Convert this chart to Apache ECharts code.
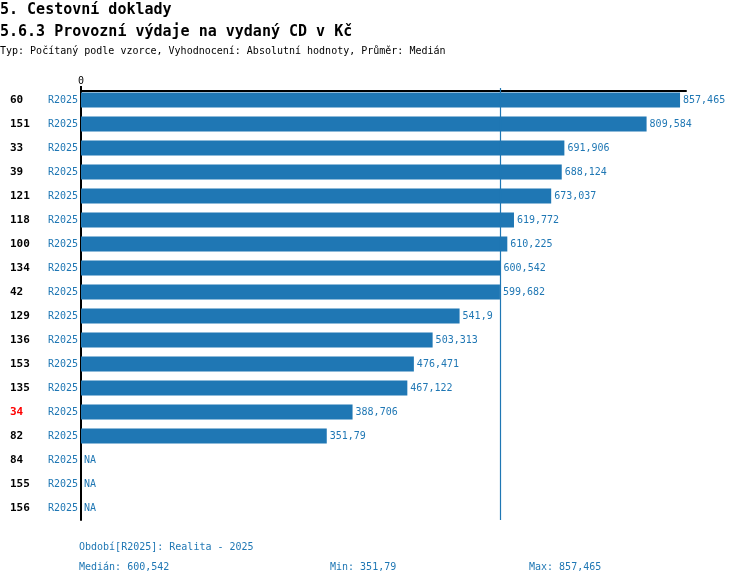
<!DOCTYPE html>
<html>
<head>
<meta charset="utf-8">
<script src="https://cdn.jsdelivr.net/npm/echarts@6/dist/echarts.min.js"></script>
<style>html,body{margin:0;padding:0;background:#fff}#c{width:750px;height:584px}</style>
</head>
<body>
<div id="c"></div>
<script>
const categories = ['60','151','33','39','121','118','100','134','42','129','136','153','135','34','82','84','155','156'];
const periods = ['R2025','R2025','R2025','R2025','R2025','R2025','R2025','R2025','R2025','R2025','R2025','R2025','R2025','R2025','R2025','R2025','R2025','R2025'];
const values = [857.465,809.584,691.906,688.124,673.037,619.772,610.225,600.542,599.682,541.9,503.313,476.471,467.122,388.706,351.79,null,null,null];
const highlighted = ['34'];
const medianValue = 600.542;
const minValue = 351.79;
const maxValue = 857.465;
const axisMax = 866;
const titleLines = ['5. Cestovní doklady','5.6.3 Provozní výdaje na vydaný CD v Kč','Typ: Počítaný podle vzorce, Vyhodnocení: Absolutní hodnoty, Průměr: Medián'];
const periodNote = 'Období[R2025]: Realita - 2025';

const FONT = 'DejaVu Sans Mono';
const BLUE = '#1f77b4';
const fmt = v => String(v).replace('.', ',');

const chart = echarts.init(document.getElementById('c'), null, {renderer:'canvas'});
chart.setOption({
  animation:false,
  backgroundColor:'#fff',
  title:[
    {text:titleLines[0], left:0, top:3, padding:0, textStyle:{fontFamily:FONT, fontSize:15, fontWeight:'bold', color:'#000'}},
    {text:titleLines[1], left:0, top:25, padding:0, textStyle:{fontFamily:FONT, fontSize:15, fontWeight:'bold', color:'#000'}},
    {text:titleLines[2], left:0, top:46, padding:0, textStyle:{fontFamily:FONT, fontSize:10, fontWeight:'normal', color:'#000'}}
  ],
  grid:{left:81, right:64, top:88, bottom:64, containLabel:false},
  xAxis:{
    type:'value', position:'top', min:0, max:axisMax, offset:-3,
    axisLine:{show:true, lineStyle:{color:'#000', width:2}},
    axisTick:{show:true, customValues:[0], length:5, lineStyle:{color:'#000', width:2}},
    axisLabel:{customValues:[0], fontFamily:FONT, fontSize:10, color:'#000', margin:5},
    splitLine:{show:false}
  },
  yAxis:{
    type:'category', data:categories, inverse:true,
    axisLine:{show:true, lineStyle:{color:'#000', width:2}},
    axisTick:{show:false},
    axisLabel:{
      margin:3,
      formatter:(v,i)=> (highlighted.includes(v) ? '{r|'+v+'}' : '{a|'+v+'}') + '{b|'+periods[i]+'}',
      rich:{
        a:{fontFamily:FONT, fontSize:11, fontWeight:'bold', color:'#000', width:38, align:'left'},
        r:{fontFamily:FONT, fontSize:11, fontWeight:'bold', color:'#ff0000', width:38, align:'left'},
        b:{fontFamily:FONT, fontSize:10, color:BLUE}
      }
    }
  },
  series:[{
    type:'bar',
    barWidth:15,
    data:values.map(v => v===null ? {value:0, na:true} : v),
    itemStyle:{color:BLUE},
    label:{
      show:true, position:'right', distance:3,
      fontFamily:FONT, fontSize:10, color:BLUE,
      formatter:p => (p.data && p.data.na) ? 'NA' : fmt(p.value)
    },
    markLine:{
      silent:true, symbol:'none', label:{show:false},
      lineStyle:{color:BLUE, width:1.2, type:'solid'},
      data:[{xAxis:medianValue}]
    }
  }],
  graphic:[
    {type:'text', left:79, top:542, style:{text:periodNote, font:'10px "DejaVu Sans Mono"', fill:BLUE}},
    {type:'text', left:79, top:562, style:{text:'Medián: '+fmt(medianValue), font:'10px "DejaVu Sans Mono"', fill:BLUE}},
    {type:'text', left:330, top:562, style:{text:'Min: '+fmt(minValue), font:'10px "DejaVu Sans Mono"', fill:BLUE}},
    {type:'text', left:529, top:562, style:{text:'Max: '+fmt(maxValue), font:'10px "DejaVu Sans Mono"', fill:BLUE}}
  ]
});
</script>
</body>
</html>
